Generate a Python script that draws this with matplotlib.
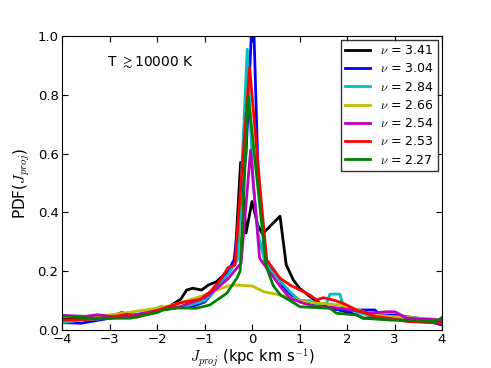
import matplotlib
matplotlib.use("Agg")
import matplotlib.pyplot as plt

labels = ["3.41", "3.04", "2.84", "2.66", "2.54", "2.53", "2.27"]
colors = ["k", "b", "c", "y", "m", "r", "g"]

x_black = [-4.0, -3.5, -3.0, -2.75, -2.5, -2.25, -2.0, -1.75, -1.5, -1.375, -1.25, -1.06,
           -0.92, -0.75, -0.6, -0.45, -0.36, -0.24, -0.125, 0.0, 0.125, 0.22, 0.59, 0.72,
           0.87, 1.0, 1.25, 1.43, 1.57, 1.85, 2.2, 2.35, 2.7, 3.0, 3.5, 4.0]
y_black = [0.036, 0.040, 0.043, 0.059, 0.051, 0.055, 0.062, 0.079, 0.105, 0.136, 0.142, 0.136,
           0.153, 0.164, 0.187, 0.210, 0.228, 0.570, 0.330, 0.437, 0.355, 0.327, 0.387, 0.222,
           0.170, 0.142, 0.110, 0.091, 0.079, 0.068, 0.051, 0.040, 0.045, 0.040, 0.034, 0.032]

x_blue = [-4.0, -3.6, -3.0, -2.5, -2.0, -1.75, -1.5, -1.25, -1.0, -0.75, -0.5, -0.375,
          -0.125, 0.02, 0.125, 0.27, 0.375, 0.52, 0.66, 0.87, 1.0, 1.25, 1.64, 2.06,
          2.2, 2.59, 2.69, 3.0, 3.5, 4.0]
y_blue = [0.025, 0.023, 0.040, 0.048, 0.066, 0.072, 0.078, 0.080, 0.095, 0.140, 0.200, 0.240,
          0.600, 1.130, 0.550, 0.250, 0.215, 0.190, 0.147, 0.113, 0.102, 0.091, 0.074, 0.062,
          0.068, 0.068, 0.051, 0.051, 0.040, 0.017]

x_cyan = [-4.0, -3.6, -3.0, -2.6, -2.25, -2.0, -1.9, -1.7, -1.4, -1.0, -0.75, -0.5, -0.3,
          -0.10, 0.025, 0.125, 0.27, 0.39, 0.52, 0.8, 1.0, 1.22, 1.36, 1.57, 1.64, 1.85,
          1.92, 2.25, 2.75, 3.25, 3.5, 4.0]
y_cyan = [0.025, 0.034, 0.040, 0.045, 0.060, 0.075, 0.080, 0.072, 0.080, 0.100, 0.140, 0.190, 0.240,
          0.955, 0.500, 0.330, 0.232, 0.204, 0.180, 0.130, 0.100, 0.100, 0.087, 0.090, 0.122, 0.122,
          0.080, 0.058, 0.042, 0.045, 0.040, 0.035]

x_yellow = [-4.0, -3.5, -3.0, -2.5, -2.35, -2.0, -1.75, -1.5, -1.25, -1.0, -0.75, -0.5, -0.375,
            0.0, 0.25, 0.5, 0.625, 1.0, 1.25, 1.5, 1.85, 2.13, 2.55, 3.0, 3.5, 4.0]
y_yellow = [0.045, 0.047, 0.051, 0.062, 0.066, 0.074, 0.082, 0.093, 0.105, 0.119, 0.135, 0.150, 0.153,
            0.150, 0.130, 0.122, 0.118, 0.100, 0.093, 0.090, 0.085, 0.074, 0.051, 0.045, 0.040, 0.034]

x_magenta = [-4.0, -3.5, -3.25, -3.0, -2.5, -2.0, -1.5, -1.0, -0.75, -0.5, -0.375, -0.23,
             -0.03, 0.16, 0.34, 0.6, 0.8, 1.08, 1.36, 1.71, 2.1, 2.48, 2.83, 3.01, 3.26, 3.96, 4.0]
y_magenta = [0.050, 0.046, 0.052, 0.046, 0.050, 0.066, 0.080, 0.110, 0.140, 0.175, 0.200, 0.227,
             0.612, 0.244, 0.204, 0.147, 0.108, 0.091, 0.079, 0.077, 0.068, 0.057, 0.062, 0.062,
             0.040, 0.034, 0.034]

x_red = [-4.0, -3.5, -3.0, -2.64, -2.43, -2.0, -1.5, -1.09, -0.88, -0.67, -0.5, -0.36,
         -0.05, 0.16, 0.31, 0.59, 0.8, 1.01, 1.22, 1.36, 1.5, 1.71, 1.92, 2.2, 2.62, 2.9,
         3.26, 4.0]
y_red = [0.034, 0.036, 0.040, 0.054, 0.043, 0.066, 0.093, 0.104, 0.130, 0.170, 0.213, 0.221,
         0.893, 0.500, 0.238, 0.176, 0.153, 0.136, 0.119, 0.102, 0.110, 0.102, 0.091, 0.068,
         0.045, 0.040, 0.029, 0.023]

x_green = [-4.0, -3.4, -2.57, -2.0, -1.87, -1.59, -1.17, -0.89, -0.53, -0.32, -0.25,
           -0.08, 0.30, 0.45, 0.6, 0.8, 1.01, 1.64, 1.78, 2.2, 2.34, 2.9, 3.89, 4.0]
y_green = [0.048, 0.040, 0.040, 0.059, 0.068, 0.075, 0.074, 0.085, 0.125, 0.176, 0.200,
           0.797, 0.215, 0.150, 0.119, 0.100, 0.079, 0.074, 0.057, 0.051, 0.040, 0.034, 0.029, 0.043]

series_x = [x_black, x_blue, x_cyan, x_yellow, x_magenta, x_red, x_green]
series_y = [y_black, y_blue, y_cyan, y_yellow, y_magenta, y_red, y_green]

plt.rcParams['font.family'] = ['DejaVu Sans']
plt.rcParams['mathtext.fontset'] = 'cm'

fig = plt.figure(figsize=(4.91, 3.68), dpi=100)
ax = fig.add_axes([62/491, 1-330/368, 380/491, 294/368])

for xs, ys, c, lab in zip(series_x, series_y, colors, labels):
    ax.plot(xs, ys, color=c, lw=2, label=r"$\nu$ = " + lab)

ax.set_xlim(-4, 4)
ax.set_ylim(0, 1.0)
ax.set_xticks([-4, -3, -2, -1, 0, 1, 2, 3, 4])
ax.set_yticks([0.0, 0.2, 0.4, 0.6, 0.8, 1.0])
ax.set_yticklabels(["0.0", "0.2", "0.4", "0.6", "0.8", "1.0"])
ax.tick_params(direction="in", top=True, right=True, labelsize=9.5, length=4, pad=2.5)
ax.set_xlabel(r"$J_{proj}$ (kpc km s$^{-1}$)", fontsize=10.5, labelpad=0)
ax.set_ylabel(r"PDF($J_{proj}$)", fontsize=11, labelpad=4)

ax.text(-3.05, 0.91, r"T $\gtrsim$10000 K", fontsize=10, va="center", ha="left")

leg = ax.legend(loc="upper right", fontsize=9, frameon=True, fancybox=False,
                edgecolor="k", handlelength=2.0, borderpad=0.35, labelspacing=0.42,
                borderaxespad=0.3)
leg.get_frame().set_linewidth(1.0)

fig.savefig("out.png", dpi=100)
